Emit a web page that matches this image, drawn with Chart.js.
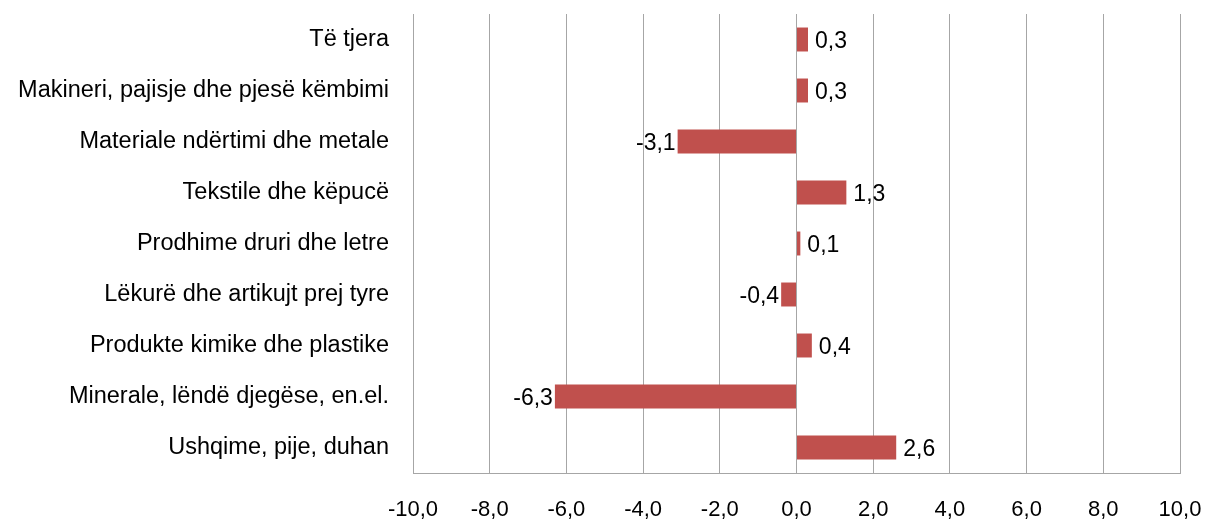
<!DOCTYPE html>
<html>
<head>
<meta charset="utf-8">
<script src="https://cdn.jsdelivr.net/npm/chart.js@4"></script>
<style>
  html, body { margin: 0; padding: 0; background: #fff; }
  #wrap { width: 1206px; height: 521px; }
</style>
</head>
<body>
<div id="wrap"><canvas id="chart" width="1206" height="521"></canvas></div>
<script>
const categories = [
    'Të tjera',
    'Makineri, pajisje dhe pjesë këmbimi',
    'Materiale ndërtimi dhe metale',
    'Tekstile dhe këpucë',
    'Prodhime druri dhe letre',
    'Lëkurë dhe artikujt prej tyre',
    'Produkte kimike dhe plastike',
    'Minerale, lëndë djegëse, en.el.',
    'Ushqime, pije, duhan'
];
const values = [0.3, 0.3, -3.1, 1.3, 0.1, -0.4, 0.4, -6.3, 2.6];
const xMin = -10;
const xMax = 10;
const xStep = 2;

const fmt = v => v.toFixed(1).replace('.', ',');
const FONT = "'Liberation Sans', Arial, sans-serif";

// value labels next to bar ends
const barLabels = {
    id: 'barLabels',
    afterDatasetsDraw(chart) {
        const ctx = chart.ctx;
        const meta = chart.getDatasetMeta(0);
        ctx.save();
        ctx.font = '23px ' + FONT;
        ctx.fillStyle = '#000';
        ctx.textBaseline = 'middle';
        meta.data.forEach((bar, i) => {
            const v = values[i];
            if (v >= 0) {
                ctx.textAlign = 'left';
                ctx.fillText(fmt(v), bar.x + 7, bar.y + 2);
            } else {
                ctx.textAlign = 'right';
                ctx.fillText(fmt(v), bar.x - 2, bar.y + 2);
            }
        });
        ctx.restore();
    }
};

new Chart(document.getElementById('chart'), {
    type: 'bar',
    data: {
        labels: categories,
        datasets: [{
            data: values,
            backgroundColor: '#c0504d',
            borderWidth: 0,
            barPercentage: 0.94,
            categoryPercentage: 0.5
        }]
    },
    options: {
        indexAxis: 'y',
        responsive: false,
        animation: false,
        layout: { padding: { top: 14, right: 26, left: 0, bottom: 0 } },
        plugins: {
            legend: { display: false },
            tooltip: { enabled: false }
        },
        scales: {
            x: {
                min: xMin,
                max: xMax,
                ticks: {
                    stepSize: xStep,
                    padding: 24,
                    color: '#000',
                    font: { size: 22, family: FONT },
                    callback: v => fmt(v),
                    maxRotation: 0
                },
                grid: { color: '#a6a6a6', drawTicks: false, lineWidth: 1 },
                border: { color: '#a6a6a6' },
                afterFit: s => { s.height = 48; s.paddingLeft = 0; s.paddingRight = 0; }
            },
            y: {
                ticks: {
                    padding: 24,
                    color: '#000',
                    font: { size: 23.5, family: FONT }
                },
                grid: { display: false, drawTicks: false },
                border: { color: '#a6a6a6' },
                afterFit: s => { s.width = 413; s.paddingTop = 0; s.paddingBottom = 0; }
            }
        }
    },
    plugins: [barLabels]
});
</script>
</body>
</html>
